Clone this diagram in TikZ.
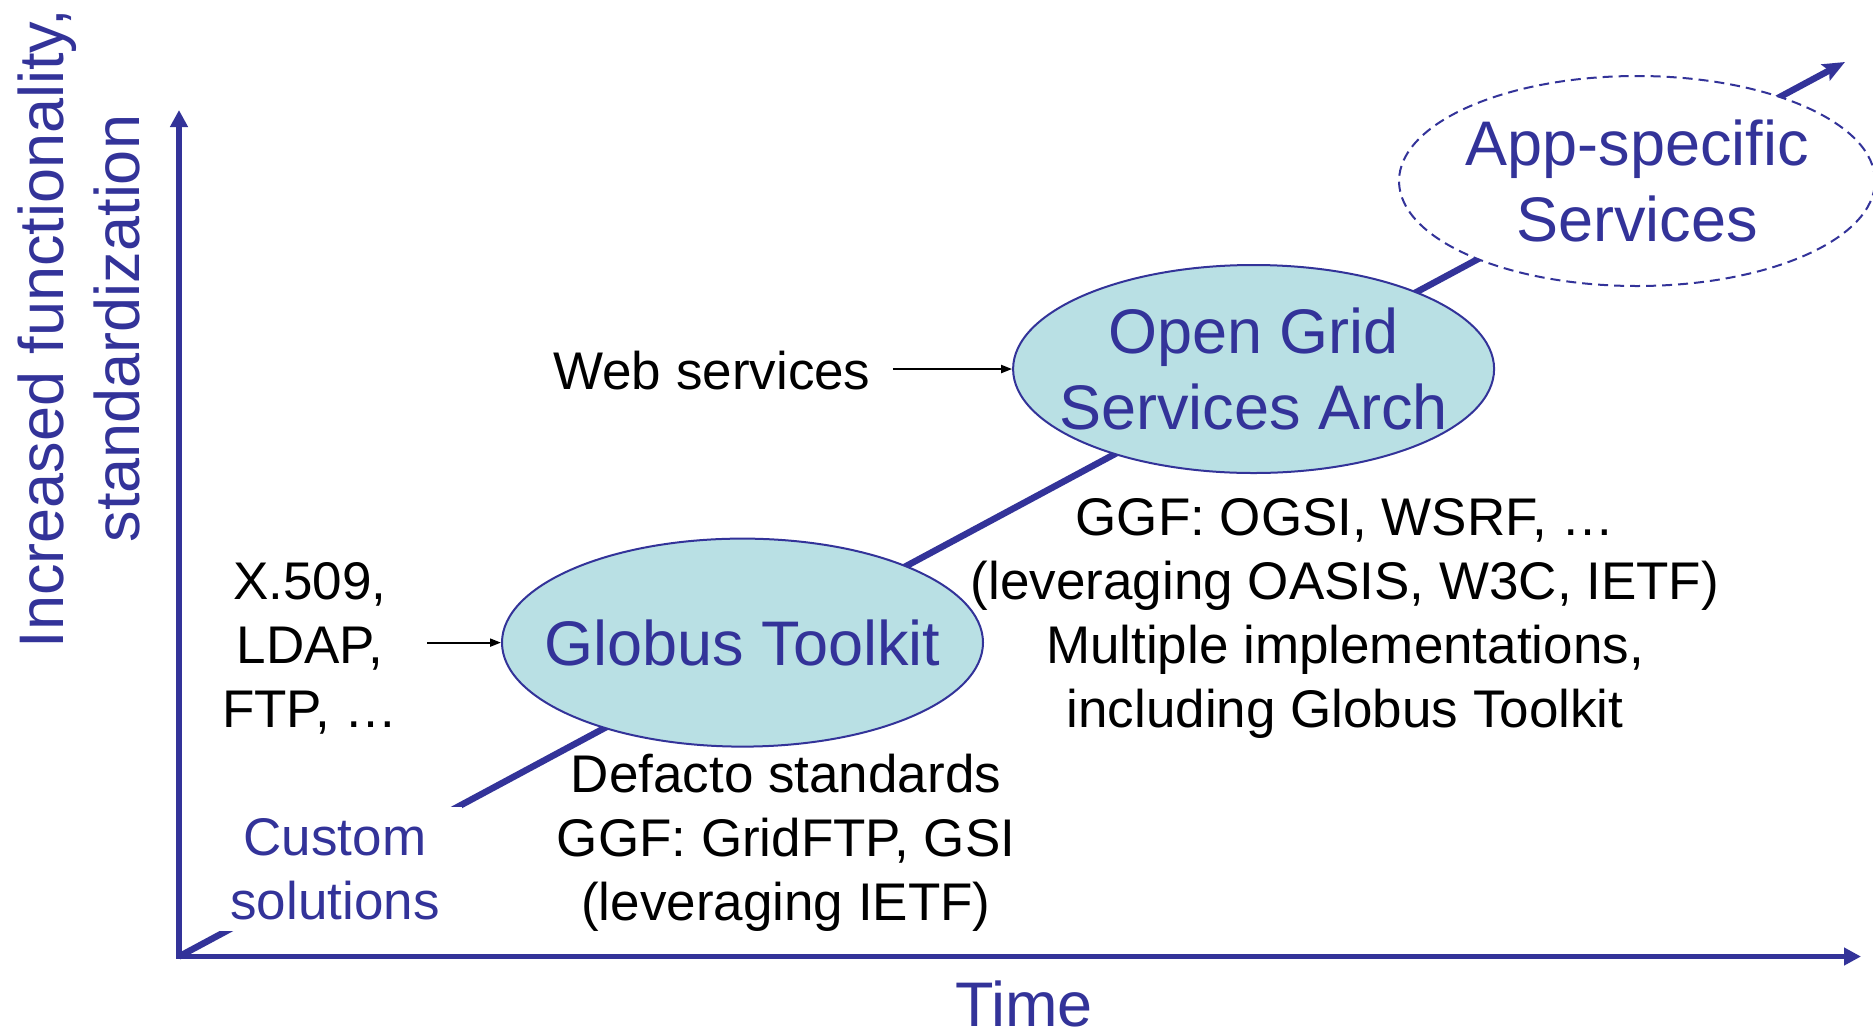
\documentclass[tikz,border=0pt]{standalone}
\usepackage{fontspec}
\setmainfont{Liberation Sans}
\usetikzlibrary{arrows.meta,shapes.geometric}
\definecolor{navy}{RGB}{51,51,153}
\definecolor{cyanfill}{RGB}{185,224,228}
\begin{document}
\begin{tikzpicture}[x=1pt,y=-1pt,
  bluetxt/.style={text=navy, font=\fontsize{63}{75.6}\selectfont, align=center, inner sep=0pt},
  blacktxt/.style={text=black, font=\fontsize{53}{64}\selectfont, align=center, inner sep=0pt},
  smallbluetxt/.style={text=navy, font=\fontsize{53}{64}\selectfont, align=center},
  axisline/.style={draw=navy, line width=5.3pt, line cap=rect, -{Triangle[length=17pt,width=17pt]}},
  trend/.style={draw=navy, line width=6.5pt, -{Stealth[length=22pt,width=18pt,inset=4pt]}},
  pointer/.style={draw=black, line width=2pt, -{Triangle[length=11pt,width=8pt]}},
  stage/.style={ellipse, draw=navy, line width=2pt, fill=cyanfill, minimum width=481pt, minimum height=208pt, inner sep=0pt},
  future/.style={ellipse, draw=navy, line width=2pt, dash pattern=on 10pt off 6pt, fill=white, minimum width=476pt, minimum height=210pt, inner sep=0pt}
]
\path[fill=white] (0,0) rectangle (1873,1031);
\useasboundingbox (0,0) rectangle (1873,1031);

\coordinate (O) at (179,956.5);
\coordinate (ytop) at (179,110);
\coordinate (xend) at (1861,956.5);
\coordinate (trendtip) at (1845,62);

\draw[axisline] (O) -- (ytop);
\draw[axisline] (O) -- (xend);
\draw[trend] (O) -- (trendtip);

\node[stage, label={[bluetxt]center:Globus Toolkit}] (globus) at (742.5,642.6) {};
\node[stage, label={[bluetxt]center:{Open Grid\\Services Arch}}] (ogsa) at (1253.6,369) {};
\node[future, label={[bluetxt]center:{App-specific\\Services}}] (app) at (1637,181) {};

\node[blacktxt, anchor=north] (web) at (712,351) {Web services};
\node[blacktxt, anchor=north] (std) at (310,562) {X.509,\\LDAP,\\FTP, …};
\node[smallbluetxt, fill=white, inner xsep=22pt, inner ysep=11pt, anchor=north] (custom) at (335,807) {Custom\\solutions};
\node[blacktxt, anchor=north] (defacto) at (786,753.7) {Defacto standards\\GGF: GridFTP, GSI\\(leveraging IETF)};
\node[blacktxt, anchor=north] (ggf) at (1345,498) {GGF: OGSI, WSRF, …\\(leveraging OASIS, W3C, IETF)\\Multiple implementations,\\including Globus Toolkit};
\node[bluetxt, anchor=north] (time) at (1024,981) {Time};
\node[bluetxt, rotate=90, anchor=north] (ylabel) at (18,328.5) {Increased functionality,\\standardization};

\draw[pointer, shorten <=22pt] (web.east |- ogsa.west) -- (ogsa.west);
\draw[pointer, shorten <=29pt] (std.east |- globus.west) -- (globus.west);
\end{tikzpicture}
\end{document}
